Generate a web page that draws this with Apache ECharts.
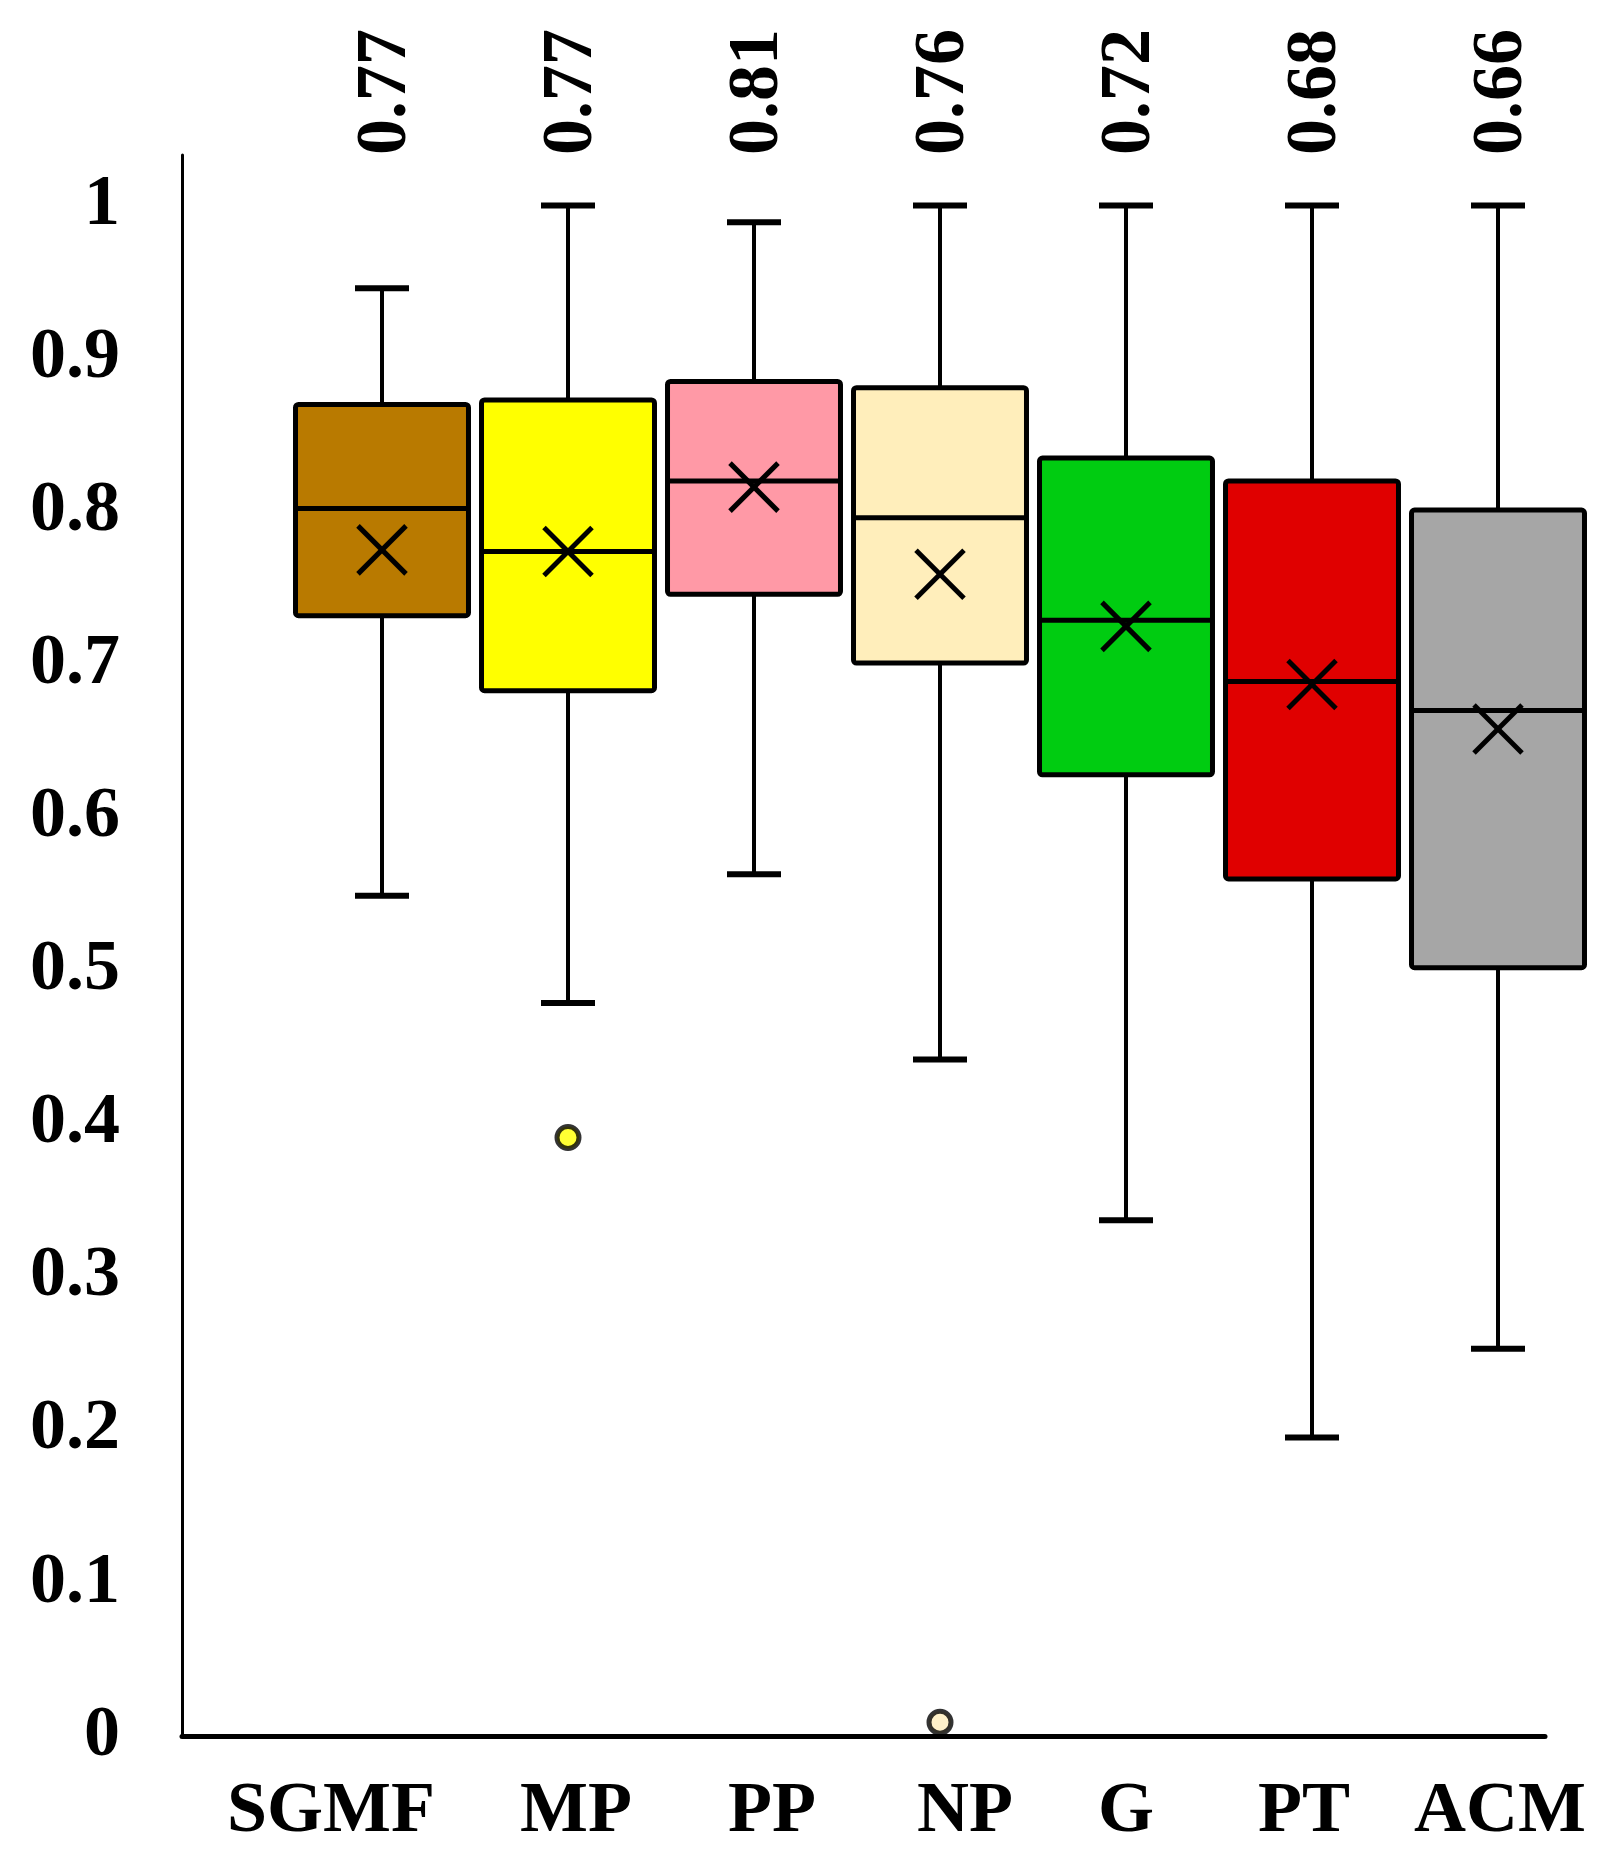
<!DOCTYPE html>
<html>
<head>
<meta charset="utf-8">
<script src="https://cdn.jsdelivr.net/npm/echarts@6/dist/echarts.min.js"></script>
<style>
html,body{margin:0;padding:0;background:#fff;}
#chart{width:1614px;height:1867px;}
</style>
</head>
<body>
<div id="chart"></div>
<script>
// ---- data ----
const categories = ['SGMF', 'MP', 'PP', 'NP', 'G', 'PT', 'ACM'];
const lowerWhisker = [0.549, 0.479, 0.563, 0.442, 0.337, 0.195, 0.253];
const q1 = [0.732, 0.683, 0.746, 0.701, 0.628, 0.560, 0.502];
const median = [0.802, 0.774, 0.820, 0.796, 0.729, 0.689, 0.670];
const q3 = [0.870, 0.873, 0.885, 0.881, 0.835, 0.820, 0.801];
const upperWhisker = [0.946, 1.0, 0.989, 1.0, 1.0, 1.0, 1.0];
const mean = [0.775, 0.774, 0.816, 0.759, 0.725, 0.687, 0.658];
const meanLabels = ['0.77', '0.77', '0.81', '0.76', '0.72', '0.68', '0.66'];
const outlierCategory = [1, 3];
const outlierValue = [0.391, 0.009];

// ---- style ----
const boxColors = ['#B97A00', '#FFFF00', '#FF99A6', '#FFEEBB', '#00CC11', '#E00000', '#A6A6A6'];
const labelNudge = [-51, 8, 18, 25, 0, -8, 2];
const FONT = '"Liberation Serif", "Times New Roman", serif';
const Y_MAX = 1.033;

const chart = echarts.init(document.getElementById('chart'));

const rich = {};
labelNudge.forEach((n, i) => {
  rich['s' + i] = {
    fontFamily: FONT, fontWeight: 'bold', fontSize: 72, color: '#000',
    padding: n < 0 ? [0, -2 * n, 0, 0] : [0, 0, 0, 2 * n]
  };
});

const boxData = categories.map((c, i) => [i, lowerWhisker[i], q1[i], median[i], q3[i], upperWhisker[i], mean[i]]);

function renderBox(params, api) {
  const i = api.value(0);
  const lo = api.coord([i, api.value(1)]);
  const b1 = api.coord([i, api.value(2)]);
  const md = api.coord([i, api.value(3)]);
  const b3 = api.coord([i, api.value(4)]);
  const hi = api.coord([i, api.value(5)]);
  const mn = api.coord([i, api.value(6)]);
  const cx = lo[0];
  const band = api.size([1, 0])[0];
  const boxW = band * 0.93;
  const capHalf = 27;
  const xh = 24;
  const stroke = '#000';
  const top = params.coordSys.y;
  return {
    type: 'group',
    children: [
      { type: 'line', shape: { x1: cx, y1: b3[1], x2: cx, y2: hi[1] }, style: { stroke, lineWidth: 4 } },
      { type: 'line', shape: { x1: cx - capHalf, y1: hi[1], x2: cx + capHalf, y2: hi[1] }, style: { stroke, lineWidth: 6 } },
      { type: 'line', shape: { x1: cx, y1: b1[1], x2: cx, y2: lo[1] }, style: { stroke, lineWidth: 4 } },
      { type: 'line', shape: { x1: cx - capHalf, y1: lo[1], x2: cx + capHalf, y2: lo[1] }, style: { stroke, lineWidth: 6 } },
      { type: 'rect', shape: { x: cx - boxW / 2, y: b3[1], width: boxW, height: b1[1] - b3[1], r: 3 },
        style: { fill: boxColors[i], stroke, lineWidth: 5 } },
      { type: 'line', shape: { x1: cx - boxW / 2, y1: md[1], x2: cx + boxW / 2, y2: md[1] }, style: { stroke, lineWidth: 5 } },
      { type: 'line', shape: { x1: cx - xh, y1: mn[1] - xh, x2: cx + xh, y2: mn[1] + xh }, style: { stroke, lineWidth: 5 } },
      { type: 'line', shape: { x1: cx - xh, y1: mn[1] + xh, x2: cx + xh, y2: mn[1] - xh }, style: { stroke, lineWidth: 5 } },
      { type: 'text', x: cx + 4, y: top, rotation: Math.PI / 2,
        style: { text: meanLabels[i], fill: '#000', font: 'bold 72px ' + FONT,
                 align: 'left', verticalAlign: 'middle', textAlign: 'left', textVerticalAlign: 'middle' } }
    ]
  };
}

const option = {
  backgroundColor: '#fff',
  animation: false,
  grid: [
    { left: 182, right: 69, top: 155, bottom: 131 },
    { left: 289, right: 23, top: 155, bottom: 131 }
  ],
  xAxis: [
    { gridIndex: 0, type: 'value', min: 0, max: 1,
      axisLine: { show: true, lineStyle: { color: '#000', width: 5 } },
      axisTick: { show: false }, axisLabel: { show: false }, splitLine: { show: false } },
    { gridIndex: 1, type: 'category', data: categories,
      axisLine: { show: false }, axisTick: { show: false }, splitLine: { show: false },
      axisLabel: { margin: 40, formatter: (v, idx) => '{s' + idx + '|' + v + '}', rich } }
  ],
  yAxis: [
    { gridIndex: 0, type: 'value', min: 0, max: Y_MAX, interval: 0.1,
      axisLine: { show: true, lineStyle: { color: '#000', width: 3 } },
      axisTick: { show: false }, splitLine: { show: false },
      axisLabel: { margin: 62, color: '#000', fontFamily: FONT, fontWeight: 'bold', fontSize: 72,
        formatter: v => {
          const r = Math.round(v * 10) / 10;
          if (Math.abs(v - r) > 1e-6 || r > 1) return '';
          return String(r);
        } } },
    { gridIndex: 1, type: 'value', min: 0, max: Y_MAX, interval: 0.1, show: false }
  ],
  series: [
    { type: 'custom', xAxisIndex: 1, yAxisIndex: 1, clip: false,
      renderItem: renderBox, data: boxData, encode: { x: 0, y: [1, 2, 3, 4, 5, 6] } },
    { type: 'scatter', xAxisIndex: 1, yAxisIndex: 1, symbol: 'circle', symbolSize: 22,
      data: outlierCategory.map((c, k) => ({
        value: [c, outlierValue[k]],
        itemStyle: { color: boxColors[c], borderColor: '#000', borderWidth: 5 }
      })) }
  ]
};
chart.setOption(option);
</script>
</body>
</html>
